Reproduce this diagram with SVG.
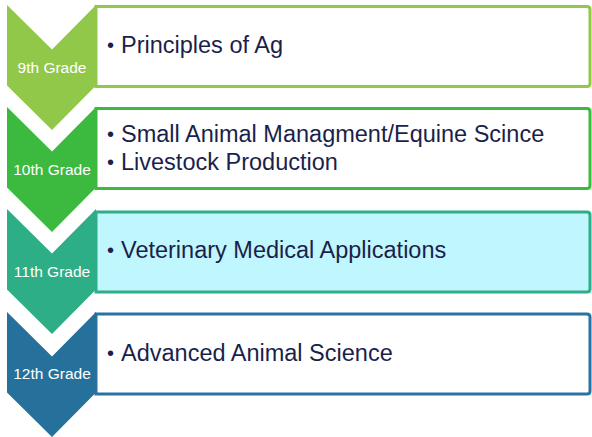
<svg xmlns="http://www.w3.org/2000/svg" width="592" height="437" viewBox="0 0 592 437">
<style>
.grade{font-family:"Liberation Sans",Arial,sans-serif;font-size:15.5px;fill:#ffffff;text-anchor:middle}
.item{font-family:"Liberation Sans",Arial,sans-serif;font-size:23.5px;fill:#1B1F4B}
.bul{font-family:"Liberation Sans",Arial,sans-serif;font-size:20px;fill:#1B1F4B}
.box{stroke-width:3}
</style>
<rect width="592" height="437" fill="#ffffff"/>
<g id="row1">
<path class="box" d="M96,6.5 H587 Q590,6.5 590,9.5 V83.5 Q590,86.5 587,86.5 H96 Z" fill="#ffffff" stroke="#92C84A"/>
<path d="M7,5 L52,49.5 L96,5 V85.5 L52,130 L7,85.5 Z" fill="#92C84A"/>
<text class="grade" x="52" y="73">9th Grade</text>
<text class="bul" x="107" y="52">•</text>
<text class="item" x="121" y="53">Principles of Ag</text>
</g>
<g id="row2">
<path class="box" d="M96,108.5 H587 Q590,108.5 590,111.5 V185.5 Q590,188.5 587,188.5 H96 Z" fill="#ffffff" stroke="#3BBA3F"/>
<path d="M7,107 L52,151.5 L96,107 V187.5 L52,232 L7,187.5 Z" fill="#3BBA3F"/>
<text class="grade" x="52" y="175">10th Grade</text>
<text class="bul" x="107" y="140.5">•</text>
<text class="item" x="121" y="141.5">Small Animal Managment/Equine Scince</text>
<text class="bul" x="107" y="169">•</text>
<text class="item" x="121" y="170">Livestock Production</text>
</g>
<g id="row3">
<path class="box" d="M96,212 H587 Q590,212 590,215 V289 Q590,292 587,292 H96 Z" fill="#C0F6FD" stroke="#2EAE86"/>
<path d="M7,209 L52,253.5 L96,209 V289.5 L52,334 L7,289.5 Z" fill="#2EAE86"/>
<text class="grade" x="52" y="277">11th Grade</text>
<text class="bul" x="107" y="257">•</text>
<text class="item" x="121" y="258">Veterinary Medical Applications</text>
</g>
<g id="row4">
<path class="box" d="M96,314 H587 Q590,314 590,317 V391 Q590,394 587,394 H96 Z" fill="#ffffff" stroke="#2A72A0"/>
<path d="M7,312 L52,356.5 L96,312 V392.5 L52,437 L7,392.5 Z" fill="#26719C"/>
<text class="grade" x="52" y="379">12th Grade</text>
<text class="bul" x="107" y="360">•</text>
<text class="item" x="121" y="361">Advanced Animal Science</text>
</g>
<g id="connectors"></g>
</svg>
